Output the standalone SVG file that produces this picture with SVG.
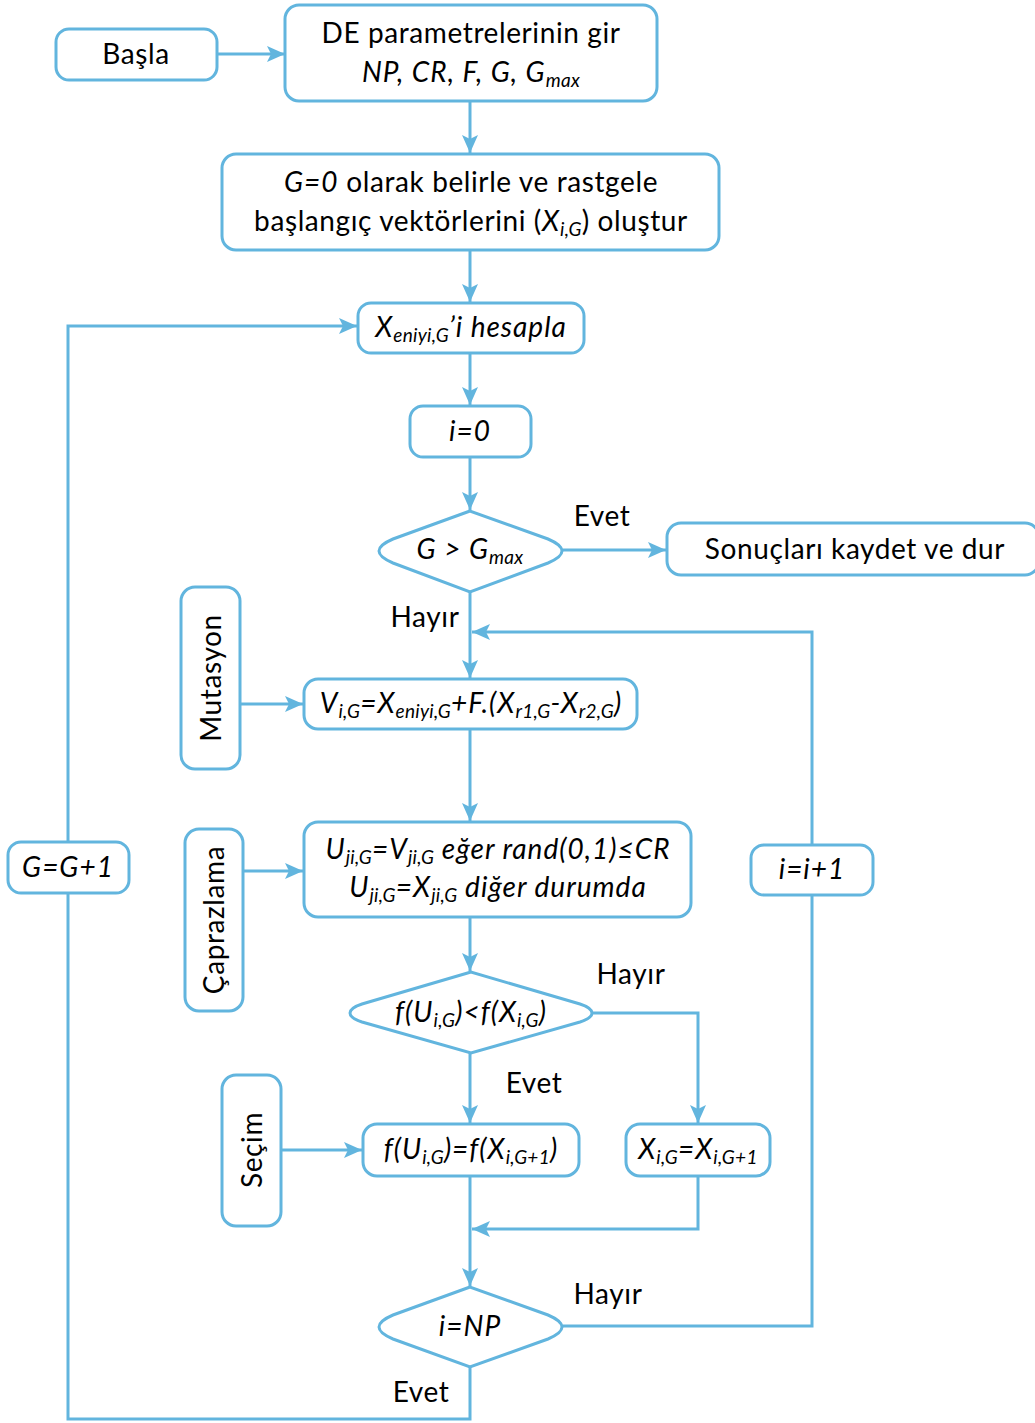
<svg xmlns="http://www.w3.org/2000/svg" width="1035" height="1423" viewBox="0 0 1035 1423">
  <style>
    .box { fill: #ffffff; stroke: #62b5de; stroke-width: 3; }
    .ln { fill: none; stroke: #62b5de; stroke-width: 3; }
    .t { font-family: Lato, "Open Sans", "Liberation Sans", sans-serif; font-size: 28px; letter-spacing: 0.6px; fill: #000000; text-anchor: middle; }
    .i { font-style: italic; letter-spacing: 1px; }
    .s { font-size: 19px; letter-spacing: 0.3px; }
  </style>
  <defs>
    <marker id="ah" viewBox="0 0 18 16" refX="18" refY="8" markerWidth="18" markerHeight="16" orient="auto" markerUnits="userSpaceOnUse">
      <path d="M0,0 L18,8 L0,16 L4,8 Z" fill="#62b5de"/>
    </marker>
  </defs>

  <!-- connectors -->
  <g id="connectors">
    <line class="ln" x1="217" y1="54" x2="285" y2="54" marker-end="url(#ah)"/>
    <line class="ln" x1="470" y1="101" x2="470" y2="153" marker-end="url(#ah)"/>
    <line class="ln" x1="470" y1="250" x2="470" y2="302" marker-end="url(#ah)"/>
    <line class="ln" x1="470" y1="353" x2="470" y2="405" marker-end="url(#ah)"/>
    <line class="ln" x1="470" y1="457" x2="470" y2="510" marker-end="url(#ah)"/>
    <line class="ln" x1="562" y1="550" x2="666" y2="550" marker-end="url(#ah)"/>
    <line class="ln" x1="470" y1="592" x2="470" y2="678" marker-end="url(#ah)"/>
    <polyline class="ln" points="812,845 812,632 472,632" marker-end="url(#ah)"/>
    <line class="ln" x1="240" y1="704" x2="303" y2="704" marker-end="url(#ah)"/>
    <line class="ln" x1="470" y1="729" x2="470" y2="821" marker-end="url(#ah)"/>
    <line class="ln" x1="243" y1="871" x2="303" y2="871" marker-end="url(#ah)"/>
    <line class="ln" x1="470" y1="917" x2="470" y2="971" marker-end="url(#ah)"/>
    <polyline class="ln" points="592,1013 698,1013 698,1123" marker-end="url(#ah)"/>
    <line class="ln" x1="470" y1="1053" x2="470" y2="1123" marker-end="url(#ah)"/>
    <line class="ln" x1="281" y1="1150" x2="362" y2="1150" marker-end="url(#ah)"/>
    <polyline class="ln" points="698,1176 698,1229 472,1229" marker-end="url(#ah)"/>
    <line class="ln" x1="470" y1="1176" x2="470" y2="1286" marker-end="url(#ah)"/>
    <polyline class="ln" points="562,1326 812,1326 812,895"/>
    <polyline class="ln" points="470,1367 470,1419 68,1419 68,893"/>
    <polyline class="ln" points="68,842 68,326 357,326" marker-end="url(#ah)"/>
  </g>

  <!-- connector labels -->
  <g id="labels">
    <text class="t" x="602" y="526">Evet</text>
    <text class="t" x="425" y="627">Hayır</text>
    <text class="t" x="631" y="984">Hayır</text>
    <text class="t" x="534" y="1093">Evet</text>
    <text class="t" x="608" y="1304">Hayır</text>
    <text class="t" x="421" y="1402">Evet</text>
  </g>

  <g id="start">
    <rect class="box" x="56" y="29" width="161" height="51" rx="13"/>
    <text class="t" x="136" y="64">Başla</text>
  </g>

  <g id="params">
    <rect class="box" x="285" y="5" width="372" height="96" rx="14"/>
    <text class="t" x="471" y="43">DE parametrelerinin gir</text>
    <text class="t i" x="471" y="82">NP, CR, F, G, G<tspan class="s" dy="5">max</tspan></text>
  </g>

  <g id="init">
    <rect class="box" x="222" y="154" width="497" height="96" rx="14"/>
    <text class="t" x="471" y="192"><tspan class="i">G=0</tspan> olarak belirle ve rastgele</text>
    <text class="t" x="471" y="231">başlangıç vektörlerini (<tspan class="i">X</tspan><tspan class="s i" dy="5">i,G</tspan><tspan dy="-5">) oluştur</tspan></text>
  </g>

  <g id="best">
    <rect class="box" x="358" y="303" width="226" height="50" rx="13"/>
    <text class="t i" x="471" y="337">X<tspan class="s" dy="5">eniyi,G</tspan><tspan dy="-5">’i hesapla</tspan></text>
  </g>

  <g id="i0">
    <rect class="box" x="410" y="406" width="121" height="51" rx="13"/>
    <text class="t i" x="470" y="441">i=0</text>
  </g>

  <g id="check-gen">
    <path class="box" d="M470,511 L393,539 Q379,545 379,551 Q379,557 393,563 L470,592 L548,563 Q562,557 562,551 Q562,545 548,539 Z"/>
    <text class="t i" x="470" y="559">G &gt; G<tspan class="s" dy="5">max</tspan></text>
  </g>

  <g id="finish">
    <rect class="box" x="667" y="523" width="372" height="52" rx="14"/>
    <text class="t" x="855" y="559">Sonuçları kaydet ve dur</text>
  </g>

  <g id="mutation-label">
    <rect class="box" x="181" y="587" width="59" height="182" rx="14"/>
    <text class="t" transform="translate(221,678) rotate(-90)" x="0" y="0">Mutasyon</text>
  </g>

  <g id="mutation">
    <rect class="box" x="304" y="679" width="333" height="50" rx="14"/>
    <text class="t i" x="471" y="713">V<tspan class="s" dy="5">i,G</tspan><tspan dy="-5">=X</tspan><tspan class="s" dy="5">eniyi,G</tspan><tspan dy="-5">+F.(X</tspan><tspan class="s" dy="5">r1,G</tspan><tspan dy="-5">-X</tspan><tspan class="s" dy="5">r2,G</tspan><tspan dy="-5">)</tspan></text>
  </g>

  <g id="crossover-label">
    <rect class="box" x="185" y="829" width="58" height="182" rx="14"/>
    <text class="t" transform="translate(224,920) rotate(-90)" x="0" y="0">Çaprazlama</text>
  </g>

  <g id="crossover">
    <rect class="box" x="304" y="822" width="387" height="95" rx="14"/>
    <text class="t i" x="498" y="859">U<tspan class="s" dy="5">ji,G</tspan><tspan dy="-5">=V</tspan><tspan class="s" dy="5">ji,G</tspan><tspan dy="-5"> eğer rand(0,1)≤CR</tspan></text>
    <text class="t i" x="498" y="897">U<tspan class="s" dy="5">ji,G</tspan><tspan dy="-5">=X</tspan><tspan class="s" dy="5">ji,G</tspan><tspan dy="-5"> diğer durumda</tspan></text>
  </g>

  <g id="increment-i">
    <rect class="box" x="751" y="845" width="122" height="50" rx="13"/>
    <text class="t i" x="812" y="879">i=i+1</text>
  </g>

  <g id="increment-g">
    <rect class="box" x="8" y="842" width="121" height="51" rx="13"/>
    <text class="t i" x="68" y="877">G=G+1</text>
  </g>

  <g id="compare">
    <path class="box" d="M471,972 L362,1004 Q350,1008 350,1013 Q350,1018 362,1022 L471,1053 L580,1022 Q592,1018 592,1013 Q592,1008 580,1004 Z"/>
    <text class="t i" x="471" y="1022">f(U<tspan class="s" dy="5">i,G</tspan><tspan dy="-5">)&lt;f(X</tspan><tspan class="s" dy="5">i,G</tspan><tspan dy="-5">)</tspan></text>
  </g>

  <g id="selection-label">
    <rect class="box" x="222" y="1075" width="59" height="151" rx="14"/>
    <text class="t" transform="translate(262,1150) rotate(-90)" x="0" y="0">Seçim</text>
  </g>

  <g id="select-trial">
    <rect class="box" x="363" y="1124" width="216" height="52" rx="14"/>
    <text class="t i" x="471" y="1159">f(U<tspan class="s" dy="5">i,G</tspan><tspan dy="-5">)=f(X</tspan><tspan class="s" dy="5">i,G+1</tspan><tspan dy="-5">)</tspan></text>
  </g>

  <g id="keep-target">
    <rect class="box" x="626" y="1124" width="144" height="52" rx="14"/>
    <text class="t i" x="698" y="1159">X<tspan class="s" dy="5">i,G</tspan><tspan dy="-5">=X</tspan><tspan class="s" dy="5">i,G+1</tspan></text>
  </g>

  <g id="check-pop">
    <path class="box" d="M470,1287 L393,1315 Q379,1321 379,1327 Q379,1333 393,1339 L470,1367 L548,1339 Q562,1333 562,1327 Q562,1321 548,1315 Z"/>
    <text class="t i" x="470" y="1336">i=NP</text>
  </g>
</svg>
